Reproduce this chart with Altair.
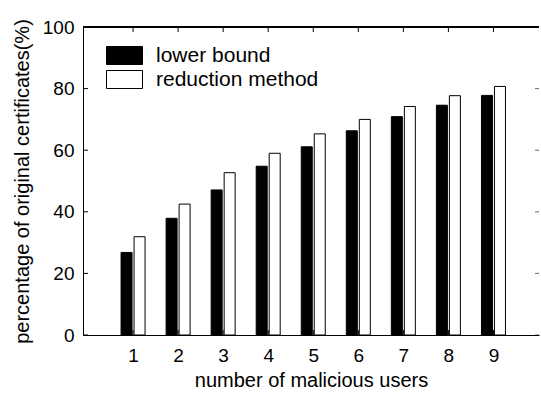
import altair as alt
import pandas as pd

users = [1, 2, 3, 4, 5, 6, 7, 8, 9]
lower_bound = [26.8, 37.9, 47.1, 54.8, 61.1, 66.3, 70.9, 74.6, 77.8]
reduction_method = [31.9, 42.5, 52.7, 59.0, 65.3, 70.0, 74.2, 77.7, 80.7]
series_names = ["lower bound", "reduction method"]
y_ticks = [0, 20, 40, 60, 80, 100]
x_ticks = users

rows = []
for u, a, b in zip(users, lower_bound, reduction_method):
    rows.append({"users": u, "value": a, "series": series_names[0]})
    rows.append({"users": u, "value": b, "series": series_names[1]})
df = pd.DataFrame(rows)

W, H = 456, 308
FONT = "Liberation Sans"

xscale = alt.Scale(domain=[0, 9.9], nice=False, zero=False)
yscale = alt.Scale(domain=[0, 100], nice=False)

color = alt.Color(
    "series:N",
    scale=alt.Scale(domain=series_names, range=["#000000", "#ffffff"]),
    legend=alt.Legend(
        title=None,
        orient="none",
        legendX=31,
        legendY=18,
        padding=0,
        symbolType="M-2,-1L2,-1L2,1L-2,1Z",
        symbolSize=324,
        symbolStrokeColor="black",
        symbolStrokeWidth=1,
        symbolFillColor="white",
        labelFont=FONT,
        labelFontSize=21,
        labelColor="black",
        labelOffset=21,
        labelLimit=400,
        rowPadding=1,
    ),
)

x_axis = alt.Axis(
    values=x_ticks,
    format="d",
    title="number of malicious users",
    ticks=False,
    grid=False,
    domainColor="black",
    domainWidth=1,
    labelPadding=11,
    titlePadding=5,
    labelFont=FONT,
    titleFont=FONT,
    labelFontSize=19,
    titleFontSize=20,
    titleFontWeight="normal",
    labelColor="black",
    titleColor="black",
)
y_axis = alt.Axis(
    values=y_ticks,
    title="percentage of original certificates(%)",
    ticks=False,
    grid=False,
    domainColor="black",
    domainWidth=1,
    labelPadding=9,
    titlePadding=10,
    labelFont=FONT,
    titleFont=FONT,
    labelFontSize=19,
    titleFontSize=20,
    titleFontWeight="normal",
    labelColor="black",
    titleColor="black",
)

x_enc = alt.X("users:Q", scale=xscale, axis=x_axis)
y_enc = alt.Y("value:Q", scale=yscale, axis=y_axis)

base = alt.Chart(df)
black_bars = base.transform_filter(alt.datum.series == series_names[0]).mark_bar(
    width=11, xOffset=-6.5, stroke="black", strokeWidth=1
).encode(x=x_enc, y=y_enc, color=color)
white_bars = base.transform_filter(alt.datum.series == series_names[1]).mark_bar(
    width=11, xOffset=6.5, stroke="black", strokeWidth=1
).encode(x=x_enc, y=y_enc, color=color)

ydf = pd.DataFrame({"t": y_ticks})
xdf = pd.DataFrame({"t": x_ticks})

left_ticks = alt.Chart(ydf).mark_rule(color="black").encode(
    y=alt.Y("t:Q", scale=yscale, axis=y_axis), x=alt.value(0), x2=alt.value(5)
)
right_ticks = alt.Chart(ydf).mark_rule(color="black", strokeWidth=0.6).encode(
    y=alt.Y("t:Q", scale=yscale, axis=y_axis), x=alt.value(W - 4), x2=alt.value(W)
)
top_ticks = alt.Chart(xdf).mark_rule(color="black").encode(
    x=alt.X("t:Q", scale=xscale, axis=x_axis), y=alt.value(0), y2=alt.value(5)
)
bottom_ticks = alt.Chart(xdf).mark_rule(color="black").encode(
    x=alt.X("t:Q", scale=xscale, axis=x_axis), y=alt.value(H - 5), y2=alt.value(H)
)
top_border = alt.Chart(xdf).mark_rule(color="black").encode(
    x=alt.value(0), x2=alt.value(W), y=alt.value(0)
)

chart = alt.layer(
    bottom_ticks, black_bars, white_bars, left_ticks, right_ticks, top_ticks, top_border
).properties(
    width=W, height=H, background="white",
    padding={"left": 12, "top": 18, "right": 0, "bottom": 0}
).configure_view(stroke=None)

chart.save("out.html", embed_options={"renderer": "svg", "actions": False})
